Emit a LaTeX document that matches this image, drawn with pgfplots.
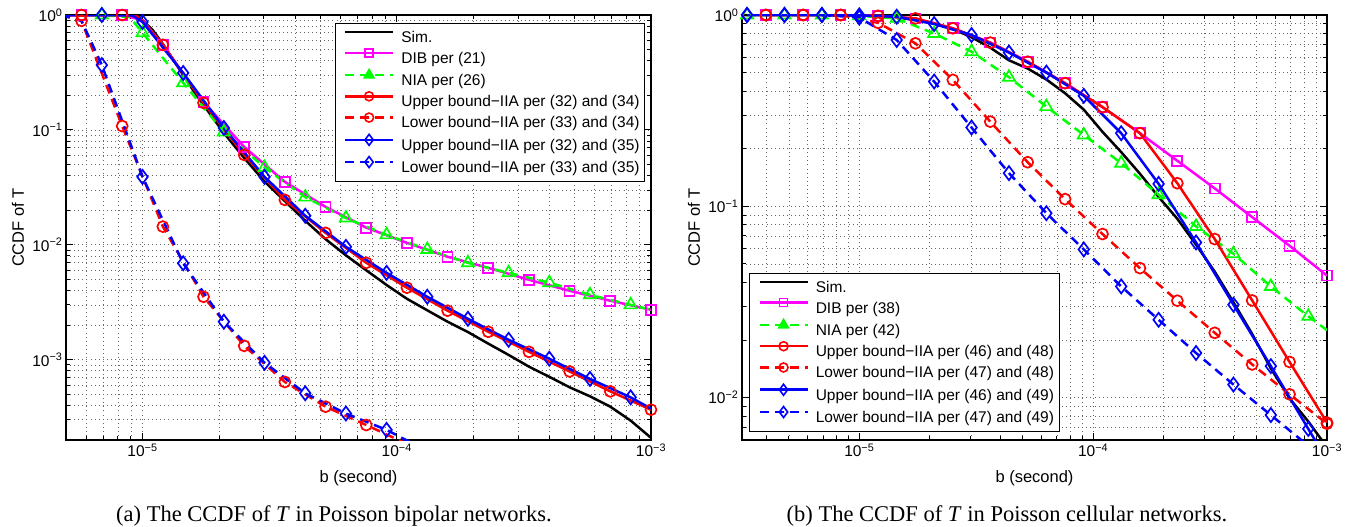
\documentclass[border=0pt]{standalone}
\usepackage{fontspec}
\setmainfont{Liberation Sans}
\newfontfamily\capfont{Liberation Serif}
\usepackage{pgfplots}
\pgfplotsset{compat=1.18}
\definecolor{mred}{rgb}{1,0,0}
\definecolor{mgreen}{rgb}{0,1,0}
\definecolor{mblue}{rgb}{0,0,1}
\definecolor{mmag}{rgb}{1,0,1}
\tikzset{dsh/.style={dash pattern=on 9pt off 6pt}}
\pgfplotsset{
  legend image code/.code={
    \draw[draw=none] (0pt,5.5pt) -- (7pt,5.5pt);
    \draw[mark repeat=2, mark phase=2, #1] plot coordinates {(7pt,5.5pt) (31pt,5.5pt) (55pt,5.5pt)};
  },
  myln/.style={line width=2.5pt, forget plot, mark=none},
  mymk/.style={only marks, forget plot, mark options={solid, line width=1.7pt}},
}
\begin{document}
\begin{tikzpicture}
\path[use as bounding box] (0pt,0pt) rectangle (1363pt,527pt);
% ---------------- left ----------------
\begin{axis}[at={(66pt,87pt)}, anchor=south west,
    scale only axis, width=585pt, height=425pt,
    xmode=log, ymode=log,
    grid=both,
    major grid style={line width=0.7pt, dash pattern=on 0.9pt off 3.2pt, black!60},
    minor grid style={line width=0.7pt, dash pattern=on 0.9pt off 3.2pt, black!60},
    axis line style={line width=1.3pt, black},
    major tick style={black, line width=0.9pt}, minor tick style={black, line width=0.9pt},
    major tick length=7pt, minor tick length=4pt,
    tick align=inside,
    tick label style={font=\fontsize{15.5}{17}\selectfont},
    label style={font=\fontsize{16.5}{19}\selectfont},
    xlabel={b (second)}, ylabel={CCDF of T},
    xlabel style={at={(axis description cs:0.5,-0.0894)}, anchor=center},
    ylabel style={at={(axis description cs:-0.082,0.5)}, anchor=center},
    legend cell align=left,
    legend style={font=\fontsize{15.5}{18}\selectfont, draw=black, line width=1.1pt,
      inner xsep=3pt, inner ysep=5.5pt, row sep=2.9pt, column sep=5pt,
      at={(0.99,0.981)}, anchor=north east},
  xmin=5e-6, xmax=1e-3, ymin=2e-4, ymax=1,
  xtick={1e-5,1e-4,1e-3}, xticklabels={10\textsuperscript{−5},10\textsuperscript{−4},10\textsuperscript{−3}},
  ytick={1e-3,1e-2,1e-1,1}, yticklabels={10\textsuperscript{−3},10\textsuperscript{−2},10\textsuperscript{−1},10\textsuperscript{0}},
  minor xtick={6e-6,7e-6,8e-6,9e-6,2e-5,3e-5,4e-5,5e-5,6e-5,7e-5,8e-5,9e-5,2e-4,3e-4,4e-4,5e-4,6e-4,7e-4,8e-4,9e-4},
  minor ytick={3e-4,4e-4,5e-4,6e-4,7e-4,8e-4,9e-4,2e-3,3e-3,4e-3,5e-3,6e-3,7e-3,8e-3,9e-3,2e-2,3e-2,4e-2,5e-2,6e-2,7e-2,8e-2,9e-2,0.2,0.3,0.4,0.5,0.6,0.7,0.8,0.9},
]
% Sim
\addplot[myln, black] coordinates {(5.0e-6,1) (9.1201e-6,1) (9.5499e-6,0.98) (1e-5,0.9) (1.0965e-5,0.74) (1.2023e-5,0.56) (1.3183e-5,0.41) (1.4454e-5,0.30) (1.5849e-5,0.22) (1.7378e-5,0.165) (2.0893e-5,0.094) (2.5119e-5,0.057) (3.0200e-5,0.0355) (3.6308e-5,0.024) (4.3652e-5,0.0162) (5.2481e-5,0.0112) (6.3096e-5,0.0081) (7.5858e-5,0.0060) (9.1201e-5,0.00447) (1.0965e-4,0.00339) (1.3183e-4,0.00269) (1.5849e-4,0.00214) (1.9055e-4,0.00174) (2.2909e-4,0.00138) (2.7542e-4,0.0011) (3.3113e-4,8.7e-4) (3.9811e-4,7.1e-4) (4.7863e-4,5.75e-4) (5.7544e-4,4.8e-4) (6.9183e-4,3.9e-4) (8.3176e-4,2.95e-4) (1e-3,2.09e-4)};
% DIB
\addplot[myln, mmag] coordinates {(4.7863e-6,1) (5.7544e-6,1) (8.3176e-6,1) (1e-5,0.9) (1.2023e-5,0.55) (1.7378e-5,0.175) (2.5119e-5,0.071) (3.6308e-5,0.0353) (5.2481e-5,0.0214) (7.5858e-5,0.0141) (1.0965e-4,0.0104) (1.5849e-4,0.00787) (2.2909e-4,0.0063) (3.3113e-4,0.00496) (4.7863e-4,0.00398) (6.9183e-4,0.00326) (1e-3,0.00272)};
\addplot[mymk, mmag, mark=square, mark size=5pt] coordinates {(5.7544e-6,1) (8.3176e-6,1) (1.2023e-5,0.55) (1.7378e-5,0.175) (2.5119e-5,0.071) (3.6308e-5,0.0353) (5.2481e-5,0.0214) (7.5858e-5,0.0141) (1.0965e-4,0.0104) (1.5849e-4,0.00787) (2.2909e-4,0.0063) (3.3113e-4,0.00496) (4.7863e-4,0.00398) (6.9183e-4,0.00326) (1e-3,0.00272)};
% NIA
\addplot[myln, mgreen, dsh] coordinates {(4.7863e-6,1) (6.9183e-6,1) (8.9125e-6,0.96) (1e-5,0.70) (1.4454e-5,0.257) (2.0893e-5,0.096) (3.0200e-5,0.047) (4.3652e-5,0.026) (6.3096e-5,0.0171) (9.1201e-5,0.0122) (1.3183e-4,0.0091) (1.9055e-4,0.00697) (2.7542e-4,0.0057) (3.9811e-4,0.00468) (5.7544e-4,0.00367) (8.3176e-4,0.0030) (1e-3,0.00272)};
\addplot[mymk, mgreen, mark=triangle, mark size=7pt] coordinates {(6.9183e-6,1) (1e-5,0.70) (1.4454e-5,0.257) (2.0893e-5,0.096) (3.0200e-5,0.047) (4.3652e-5,0.026) (6.3096e-5,0.0171) (9.1201e-5,0.0122) (1.3183e-4,0.0091) (1.9055e-4,0.00697) (2.7542e-4,0.0057) (3.9811e-4,0.00468) (5.7544e-4,0.00367) (8.3176e-4,0.0030)};
% Upper 32/34
\addplot[myln, mred] coordinates {(4.7863e-6,1) (5.7544e-6,1) (8.3176e-6,1) (9.5499e-6,0.97) (1e-5,0.88) (1.2023e-5,0.55) (1.7378e-5,0.172) (2.5119e-5,0.0606) (3.6308e-5,0.0246) (5.2481e-5,0.0127) (7.5858e-5,0.00697) (1.0965e-4,0.00423) (1.5849e-4,0.00267) (2.2909e-4,0.00175) (3.3113e-4,0.00117) (4.7863e-4,7.9e-4) (6.9183e-4,5.3e-4) (1e-3,3.67e-4)};
\addplot[mymk, mred, mark=o, mark size=5.5pt] coordinates {(5.7544e-6,1) (8.3176e-6,1) (1.2023e-5,0.55) (1.7378e-5,0.172) (2.5119e-5,0.0606) (3.6308e-5,0.0246) (5.2481e-5,0.0127) (7.5858e-5,0.00697) (1.0965e-4,0.00423) (1.5849e-4,0.00267) (2.2909e-4,0.00175) (3.3113e-4,0.00117) (4.7863e-4,7.9e-4) (6.9183e-4,5.3e-4) (1e-3,3.67e-4)};
% Lower 33/34
\addplot[myln, mred, dsh] coordinates {(4.7863e-6,1) (5.7544e-6,0.89) (8.3176e-6,0.108) (1.2023e-5,0.0144) (1.7378e-5,0.00353) (2.5119e-5,0.00132) (3.6308e-5,6.4e-4) (5.2481e-5,3.9e-4) (7.5858e-5,2.7e-4) (1.0965e-4,1.85e-4)};
\addplot[mymk, mred, mark=o, mark size=5.5pt] coordinates {(5.7544e-6,0.89) (8.3176e-6,0.108) (1.2023e-5,0.0144) (1.7378e-5,0.00353) (2.5119e-5,0.00132) (3.6308e-5,6.4e-4) (5.2481e-5,3.9e-4) (7.5858e-5,2.7e-4)};
% Upper 32/35
\addplot[myln, mblue] coordinates {(4.7863e-6,1) (6.9183e-6,1) (9.1201e-6,0.99) (1e-5,0.87) (1.4454e-5,0.313) (2.0893e-5,0.104) (3.0200e-5,0.039) (4.3652e-5,0.0179) (6.3096e-5,0.0096) (9.1201e-5,0.0057) (1.3183e-4,0.00353) (1.9055e-4,0.00227) (2.7542e-4,0.00149) (3.9811e-4,0.00102) (5.7544e-4,6.8e-4) (8.3176e-4,4.7e-4) (1e-3,3.75e-4)};
\addplot[mymk, mblue, mark=diamond, mark size=7pt] coordinates {(6.9183e-6,1) (1e-5,0.87) (1.4454e-5,0.313) (2.0893e-5,0.104) (3.0200e-5,0.039) (4.3652e-5,0.0179) (6.3096e-5,0.0096) (9.1201e-5,0.0057) (1.3183e-4,0.00353) (1.9055e-4,0.00227) (2.7542e-4,0.00149) (3.9811e-4,0.00102) (5.7544e-4,6.8e-4) (8.3176e-4,4.7e-4)};
% Lower 33/35
\addplot[myln, mblue, dsh] coordinates {(4.7863e-6,1) (5.7544e-6,0.89) (6.9183e-6,0.367) (1e-5,0.039) (1.4454e-5,0.0069) (2.0893e-5,0.00214) (3.0200e-5,9.4e-4) (4.3652e-5,5.1e-4) (6.3096e-5,3.4e-4) (9.1201e-5,2.45e-4) (1.3183e-4,1.6e-4)};
\addplot[mymk, mblue, mark=diamond, mark size=7pt] coordinates {(6.9183e-6,0.367) (1e-5,0.039) (1.4454e-5,0.0069) (2.0893e-5,0.00214) (3.0200e-5,9.4e-4) (4.3652e-5,5.1e-4) (6.3096e-5,3.4e-4) (9.1201e-5,2.45e-4)};
\addlegendimage{black, line width=2.5pt}
\addlegendimage{mmag, line width=2.5pt, mark=square, mark size=4pt, mark options={solid, line width=1.6pt}}
\addlegendimage{mgreen, line width=2.5pt, dsh, mark=triangle*, mark size=5.5pt, mark options={solid, line width=1.6pt}}
\addlegendimage{mred, line width=2.5pt, mark=o, mark size=4.5pt, mark options={solid, line width=1.6pt}}
\addlegendimage{mred, line width=2.5pt, dsh, mark=o, mark size=4.5pt, mark options={solid, line width=1.6pt}}
\addlegendimage{mblue, line width=2.5pt, mark=diamond, mark size=5.5pt, mark options={solid, line width=1.6pt}}
\addlegendimage{mblue, line width=2.5pt, dsh, mark=diamond, mark size=5.5pt, mark options={solid, line width=1.6pt}}
\legend{Sim., DIB per (21), NIA per (26), Upper bound−IIA per (32) and (34), Lower bound−IIA per (33) and (34), Upper bound−IIA per (32) and (35), Lower bound−IIA per (33) and (35)}
\end{axis}
% ---------------- right ----------------
\begin{axis}[at={(742pt,87pt)}, anchor=south west,
    scale only axis, width=585pt, height=425pt,
    xmode=log, ymode=log,
    grid=both,
    major grid style={line width=0.7pt, dash pattern=on 0.9pt off 3.2pt, black!60},
    minor grid style={line width=0.7pt, dash pattern=on 0.9pt off 3.2pt, black!60},
    axis line style={line width=1.3pt, black},
    major tick style={black, line width=0.9pt}, minor tick style={black, line width=0.9pt},
    major tick length=7pt, minor tick length=4pt,
    tick align=inside,
    tick label style={font=\fontsize{15.5}{17}\selectfont},
    label style={font=\fontsize{16.5}{19}\selectfont},
    xlabel={b (second)}, ylabel={CCDF of T},
    xlabel style={at={(axis description cs:0.5,-0.0894)}, anchor=center},
    ylabel style={at={(axis description cs:-0.082,0.5)}, anchor=center},
    legend cell align=left,
    legend style={font=\fontsize{15.5}{18}\selectfont, draw=black, line width=1.1pt,
      inner xsep=3pt, inner ysep=5.5pt, row sep=2.9pt, column sep=5pt,
      at={(0.012,0.019)}, anchor=south west},
  xmin=3.15e-6, xmax=1e-3, ymin=6e-3, ymax=1,
  xtick={1e-5,1e-4,1e-3}, xticklabels={10\textsuperscript{−5},10\textsuperscript{−4},10\textsuperscript{−3}},
  ytick={1e-2,1e-1,1}, yticklabels={10\textsuperscript{−2},10\textsuperscript{−1},10\textsuperscript{0}},
  minor xtick={4e-6,5e-6,6e-6,7e-6,8e-6,9e-6,2e-5,3e-5,4e-5,5e-5,6e-5,7e-5,8e-5,9e-5,2e-4,3e-4,4e-4,5e-4,6e-4,7e-4,8e-4,9e-4},
  minor ytick={7e-3,8e-3,9e-3,2e-2,3e-2,4e-2,5e-2,6e-2,7e-2,8e-2,9e-2,0.2,0.3,0.4,0.5,0.6,0.7,0.8,0.9},
]
% Sim
\addplot[myln, black] coordinates {(3.15e-6,1) (1.2023e-5,0.995) (1.4454e-5,0.975) (1.7378e-5,0.94) (2.0893e-5,0.905) (2.5119e-5,0.845) (3.0200e-5,0.765) (3.6308e-5,0.675) (4.3652e-5,0.58) (5.2481e-5,0.525) (6.3096e-5,0.46) (7.5858e-5,0.39) (9.1201e-5,0.32) (1.0965e-4,0.245) (1.3183e-4,0.192) (1.5849e-4,0.148) (1.9055e-4,0.112) (2.2909e-4,0.086) (2.7542e-4,0.063) (3.3113e-4,0.0455) (3.9811e-4,0.0315) (4.7863e-4,0.0215) (5.7544e-4,0.0142) (6.9183e-4,0.0099) (8.3176e-4,0.0075) (1e-3,0.0055)};
% DIB
\addplot[myln, mmag] coordinates {(3.9811e-6,1) (5.7544e-6,1) (8.3176e-6,1) (1.2023e-5,0.99) (1.7378e-5,0.96) (2.5119e-5,0.852) (3.6308e-5,0.717) (5.2481e-5,0.57) (7.5858e-5,0.44) (1.0965e-4,0.33) (1.5849e-4,0.241) (2.2909e-4,0.173) (3.3113e-4,0.124) (4.7863e-4,0.0878) (6.9183e-4,0.0622) (1e-3,0.0434)};
\addplot[mymk, mmag, mark=square, mark size=5pt] coordinates {(3.9811e-6,1) (5.7544e-6,1) (8.3176e-6,1) (1.2023e-5,0.99) (1.7378e-5,0.96) (2.5119e-5,0.852) (3.6308e-5,0.717) (5.2481e-5,0.57) (7.5858e-5,0.44) (1.0965e-4,0.33) (1.5849e-4,0.241) (2.2909e-4,0.173) (3.3113e-4,0.124) (4.7863e-4,0.0878) (6.9183e-4,0.0622) (1e-3,0.0434)};
% NIA
\addplot[myln, mgreen, dsh] coordinates {(3.3113e-6,1) (4.7863e-6,1) (6.9183e-6,1) (1e-5,0.99) (1.4454e-5,0.96) (2.0893e-5,0.80) (3.0200e-5,0.643) (4.3652e-5,0.473) (6.3096e-5,0.332) (9.1201e-5,0.236) (1.3183e-4,0.168) (1.9055e-4,0.115) (2.7542e-4,0.0785) (3.9811e-4,0.0565) (5.7544e-4,0.0381) (8.3176e-4,0.0266) (1e-3,0.0225)};
\addplot[mymk, mgreen, mark=triangle, mark size=7pt] coordinates {(3.3113e-6,1) (4.7863e-6,1) (6.9183e-6,1) (1e-5,0.99) (1.4454e-5,0.96) (2.0893e-5,0.80) (3.0200e-5,0.643) (4.3652e-5,0.473) (6.3096e-5,0.332) (9.1201e-5,0.236) (1.3183e-4,0.168) (1.9055e-4,0.115) (2.7542e-4,0.0785) (3.9811e-4,0.0565) (5.7544e-4,0.0381) (8.3176e-4,0.0266)};
% Upper 46/48
\addplot[myln, mred] coordinates {(3.9811e-6,1) (5.7544e-6,1) (8.3176e-6,1) (1.2023e-5,0.99) (1.7378e-5,0.96) (2.5119e-5,0.852) (3.6308e-5,0.717) (5.2481e-5,0.57) (7.5858e-5,0.44) (1.0965e-4,0.33) (1.5849e-4,0.241) (2.2909e-4,0.132) (3.3113e-4,0.0674) (4.7863e-4,0.0322) (6.9183e-4,0.01535) (1e-3,0.0074)};
\addplot[mymk, mred, mark=o, mark size=5.5pt] coordinates {(3.9811e-6,1) (5.7544e-6,1) (8.3176e-6,1) (1.2023e-5,0.99) (1.7378e-5,0.96) (2.5119e-5,0.852) (3.6308e-5,0.717) (5.2481e-5,0.57) (7.5858e-5,0.44) (1.0965e-4,0.33) (1.5849e-4,0.241) (2.2909e-4,0.132) (3.3113e-4,0.0674) (4.7863e-4,0.0322) (6.9183e-4,0.01535) (1e-3,0.0074)};
% Lower 47/48
\addplot[myln, mred, dsh] coordinates {(3.9811e-6,1) (5.7544e-6,1) (8.3176e-6,1) (1.2023e-5,0.91) (1.7378e-5,0.711) (2.5119e-5,0.458) (3.6308e-5,0.277) (5.2481e-5,0.170) (7.5858e-5,0.109) (1.0965e-4,0.0716) (1.5849e-4,0.0475) (2.2909e-4,0.0321) (3.3113e-4,0.0218) (4.7863e-4,0.0149) (6.9183e-4,0.0104) (1e-3,0.0073)};
\addplot[mymk, mred, mark=o, mark size=5.5pt] coordinates {(3.9811e-6,1) (5.7544e-6,1) (8.3176e-6,1) (1.2023e-5,0.91) (1.7378e-5,0.711) (2.5119e-5,0.458) (3.6308e-5,0.277) (5.2481e-5,0.170) (7.5858e-5,0.109) (1.0965e-4,0.0716) (1.5849e-4,0.0475) (2.2909e-4,0.0321) (3.3113e-4,0.0218) (4.7863e-4,0.0149) (6.9183e-4,0.0104) (1e-3,0.0073)};
% Upper 46/49
\addplot[myln, mblue] coordinates {(3.3113e-6,1) (4.7863e-6,1) (6.9183e-6,1) (1e-5,0.995) (1.4454e-5,0.98) (2.0893e-5,0.897) (3.0200e-5,0.786) (4.3652e-5,0.636) (6.3096e-5,0.50) (9.1201e-5,0.378) (1.3183e-4,0.241) (1.9055e-4,0.131) (2.7542e-4,0.0647) (3.9811e-4,0.0306) (5.7544e-4,0.0146) (8.3176e-4,0.00686) (1e-3,0.0047)};
\addplot[mymk, mblue, mark=diamond, mark size=7pt] coordinates {(3.3113e-6,1) (4.7863e-6,1) (6.9183e-6,1) (1e-5,0.995) (1.4454e-5,0.98) (2.0893e-5,0.897) (3.0200e-5,0.786) (4.3652e-5,0.636) (6.3096e-5,0.50) (9.1201e-5,0.378) (1.3183e-4,0.241) (1.9055e-4,0.131) (2.7542e-4,0.0647) (3.9811e-4,0.0306) (5.7544e-4,0.0146) (8.3176e-4,0.00686)};
% Lower 47/49
\addplot[myln, mblue, dsh] coordinates {(3.3113e-6,1) (4.7863e-6,1) (6.9183e-6,1) (1e-5,0.97) (1.4454e-5,0.74) (2.0893e-5,0.449) (3.0200e-5,0.258) (4.3652e-5,0.149) (6.3096e-5,0.092) (9.1201e-5,0.0595) (1.3183e-4,0.0381) (1.9055e-4,0.0255) (2.7542e-4,0.0171) (3.9811e-4,0.0117) (5.7544e-4,0.0081) (8.3176e-4,0.0056)};
\addplot[mymk, mblue, mark=diamond, mark size=7pt] coordinates {(3.3113e-6,1) (4.7863e-6,1) (6.9183e-6,1) (1e-5,0.97) (1.4454e-5,0.74) (2.0893e-5,0.449) (3.0200e-5,0.258) (4.3652e-5,0.149) (6.3096e-5,0.092) (9.1201e-5,0.0595) (1.3183e-4,0.0381) (1.9055e-4,0.0255) (2.7542e-4,0.0171) (3.9811e-4,0.0117) (5.7544e-4,0.0081)};
\addlegendimage{black, line width=2.5pt}
\addlegendimage{mmag, line width=2.5pt, mark=square, mark size=4pt, mark options={solid, line width=1.6pt}}
\addlegendimage{mgreen, line width=2.5pt, dsh, mark=triangle*, mark size=5.5pt, mark options={solid, line width=1.6pt}}
\addlegendimage{mred, line width=2.5pt, mark=o, mark size=4.5pt, mark options={solid, line width=1.6pt}}
\addlegendimage{mred, line width=2.5pt, dsh, mark=o, mark size=4.5pt, mark options={solid, line width=1.6pt}}
\addlegendimage{mblue, line width=2.5pt, mark=diamond, mark size=5.5pt, mark options={solid, line width=1.6pt}}
\addlegendimage{mblue, line width=2.5pt, dsh, mark=diamond, mark size=5.5pt, mark options={solid, line width=1.6pt}}
\legend{Sim., DIB per (38), NIA per (42), Upper bound−IIA per (46) and (48), Lower bound−IIA per (47) and (48), Upper bound−IIA per (46) and (49), Lower bound−IIA per (47) and (49)}
\end{axis}
\node[anchor=base, font=\fontsize{22.5}{26}\selectfont\capfont] at (334pt,5pt) {(a) The CCDF of \textit{T} in Poisson bipolar networks.};
\node[anchor=base, font=\fontsize{22.5}{26}\selectfont\capfont] at (1007pt,5pt) {(b) The CCDF of \textit{T} in Poisson cellular networks.};
\end{tikzpicture}
\end{document}
